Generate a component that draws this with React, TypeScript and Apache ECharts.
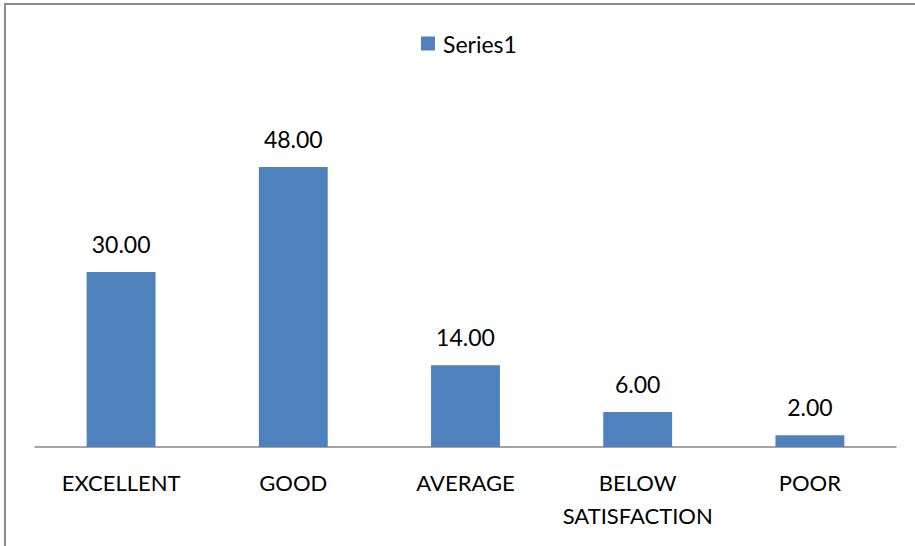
import React, { useEffect, useRef } from "react";
import * as echarts from "echarts";

const categories = ["EXCELLENT", "GOOD", "AVERAGE", "BELOW\nSATISFACTION", "POOR"];
const seriesName = "Series1";
const values = [30, 48, 14, 6, 2];

export default function App() {
  const ref = useRef<HTMLDivElement>(null);
  useEffect(() => {
    const chart = echarts.init(ref.current!, null, { renderer: "svg" });
    const font = "Lato, 'Open Sans', sans-serif";
    chart.setOption({
      animation: false,
      backgroundColor: "#ffffff",
      graphic: [
        {
          type: "rect",
          shape: { x: 5, y: 4, width: 1000, height: 1000 },
          style: { fill: "none", stroke: "#8c8c8c", lineWidth: 2 },
          silent: true,
        },
      ],
      legend: {
        data: [seriesName],
        top: 27,
        left: 416,
        itemWidth: 14,
        itemHeight: 14,
        itemGap: 4,
        icon: "rect",
        textStyle: { fontFamily: font, fontSize: 23, color: "#000", padding: [0, 0, 0, 3] },
      },
      grid: { left: 35, right: 19, top: 97, height: 350 },
      xAxis: {
        type: "category",
        data: categories,
        axisLine: { lineStyle: { color: "#868686", width: 1.5 } },
        axisTick: { show: false },
        axisLabel: {
          fontFamily: font,
          fontSize: 22,
          color: "#000",
          margin: 19,
          lineHeight: 33,
          interval: 0,
        },
      },
      yAxis: {
        type: "value",
        min: 0,
        max: 60,
        show: false,
        splitLine: { show: false },
      },
      series: [
        {
          name: seriesName,
          type: "bar",
          data: values,
          barWidth: "40%",
          itemStyle: { color: "#4F81BD" },
          label: {
            show: true,
            position: "top",
            distance: 17,
            formatter: (p: any) => Number(p.value).toFixed(2),
            fontFamily: font,
            fontSize: 23,
            color: "#000",
          },
        },
      ],
    });
    return () => chart.dispose();
  }, []);
  return (
    <div
      ref={ref}
      style={{ position: "fixed", left: 0, top: 0, width: 915, height: 546 }}
    />
  );
}
